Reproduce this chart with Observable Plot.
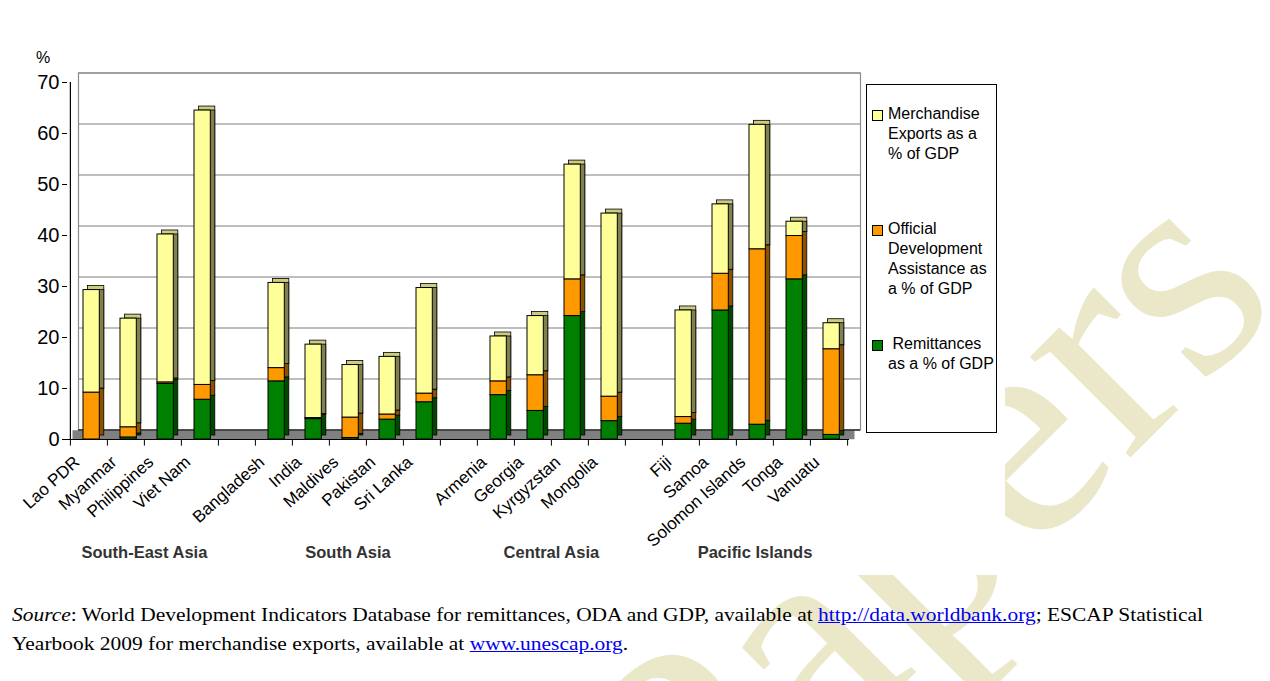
<!DOCTYPE html>
<html>
<head>
<meta charset="utf-8">
<script src="https://cdn.jsdelivr.net/npm/d3@7"></script>
<script src="https://cdn.jsdelivr.net/npm/@observablehq/plot@0.6"></script>
<style>
  body { margin: 0; background: #fff; }
  #wrap { position: relative; width: 1270px; height: 681px; overflow: hidden; font-family: Arial, "Liberation Sans", sans-serif; }
  #wm { position: absolute; left: 0; top: 0; }
  #chart { position: absolute; left: 0; top: 0; background: #fff; }
  #pct { position: absolute; left: 36px; top: 49px; font-size: 16px; color: #000; }
  #legend { position: absolute; left: 866px; top: 84px; width: 129px; height: 347px; border: 1px solid #000; background: #fff; font-size: 16px; line-height: 20px; color: #000; }
  .item { position: absolute; left: 0; }
  .sw { position: absolute; left: 5px; top: 6px; width: 9px; height: 9px; border: 1px solid #000; }
  .lt { position: absolute; left: 21px; top: 0; white-space: nowrap; }
  #caption { position: absolute; left: 12px; top: 600px; font-family: "Liberation Serif", "Times New Roman", serif; font-size: 19.5px; line-height: 29px; color: #000; white-space: nowrap; transform: scaleX(1.1); transform-origin: 0 0; }
  #caption a { color: #0000ee; text-decoration: underline; }
</style>
</head>
<body>
<div id="wrap">
  <svg id="wm" width="1270" height="681"><text id="wmtext" font-family="Liberation Serif, Times New Roman, serif" font-size="310" fill="#ebe8c9">Papers</text></svg>
  <div id="chart"></div>
  <div id="pct">%</div>
  <div id="legend"></div>
  <div id="caption"><i>Source</i>: World Development Indicators Database for remittances, ODA and GDP, available at <a>http://data.worldbank.org</a>; ESCAP Statistical<br>Yearbook 2009 for merchandise exports, available at <a>www.unescap.org</a>.</div>
</div>
<script>
// ---- data ----
const regionNames = ["South-East Asia", "South Asia", "Central Asia", "Pacific Islands"];
const countries = ["Lao PDR", "Myanmar", "Philippines", "Viet Nam",
  "Bangladesh", "India", "Maldives", "Pakistan", "Sri Lanka",
  "Armenia", "Georgia", "Kyrgyzstan", "Mongolia",
  "Fiji", "Samoa", "Solomon Islands", "Tonga", "Vanuatu"];
const countryRegion = [0, 0, 0, 0, 1, 1, 1, 1, 1, 2, 2, 2, 2, 3, 3, 3, 3, 3];
const remittances = [0, 0.4, 10.9, 7.8, 11.4, 4.0, 0.3, 3.9, 7.3, 8.7, 5.6, 24.2, 3.6, 3.1, 25.3, 2.9, 31.4, 0.9];
const oda = [9.2, 2.0, 0.3, 2.9, 2.6, 0.2, 4.0, 1.0, 1.7, 2.7, 7.0, 7.2, 4.8, 1.3, 7.2, 34.4, 8.5, 16.8];
const merchExports = [20.1, 21.3, 29.0, 53.8, 16.7, 14.4, 10.3, 11.3, 20.7, 8.8, 11.6, 22.5, 35.9, 20.9, 13.6, 24.4, 2.8, 5.1];
const seriesNames = ["Remittances as a % of GDP", "Official Development Assistance as a % of GDP", "Merchandise Exports as a % of GDP"];
const seriesFront = ["#008000", "#FF9900", "#FFFF99"];
const seriesSide = ["#004a00", "#8a5200", "#808050"];
const topColor = "#cccc80";
const yTicks = [0, 10, 20, 30, 40, 50, 60, 70];

// ---- slots (with empty gaps between regions) ----
const slots = [];
regionNames.forEach((r, ri) => {
  countries.forEach((c, i) => { if (countryRegion[i] === ri) slots.push(c); });
  if (ri < regionNames.length - 1) slots.push(" ".repeat(ri + 1));
});

const rows = [];
countries.forEach((c, i) => {
  let base = 0;
  [remittances, oda, merchExports].forEach((arr, k) => {
    const v = arr[i];
    if (v > 0) rows.push({country: c, series: k, y1: base, y2: base + v});
    base += v;
  });
});
const topRows = rows.filter(r => r.series === 2);

const W = 1005, H = 575, ML = 67, MR = 156, MT = 82, MB = 136;
const bw = (W - ML - MR) / slots.length;
const DX = 11, DY = -9.5;
const SX = 4.5, SY = -4;
const barInset = {insetLeft: 13, insetRight: 7.7};

const groupMarks = regionNames.map((r, ri) => {
  const members = countries.filter((c, i) => countryRegion[i] === ri);
  const n = members.length;
  const mid = members[Math.floor(n / 2)];
  return Plot.text([r], {x: () => mid, y: () => 0, text: d => d, dx: n % 2 === 0 ? -bw / 2 : 0, dy: 113,
    fontSize: 16.5, fontWeight: "bold", fill: "#333"});
});

const chart = Plot.plot({
  width: W, height: H,
  marginLeft: ML, marginRight: MR, marginTop: MT, marginBottom: MB,
  style: {fontFamily: "Arial, 'Liberation Sans', sans-serif", background: "#fff", overflow: "visible"},
  x: {type: "band", domain: slots, padding: 0, axis: null},
  y: {domain: [0, 70], axis: null},
  marks: [
    Plot.ruleY(yTicks, {stroke: "#a8a8a8", strokeWidth: 1.5, dx: DX, dy: DY}),
    Plot.frame({stroke: "#8c8c8c", strokeWidth: 1.2, dx: DX, dy: DY}),
    Plot.ruleY([0], {stroke: "#808080", strokeWidth: 9, dx: DX / 2, dy: DY / 2}),
    Plot.ruleY([0], {stroke: "#000", strokeWidth: 1, dx: DX, dy: DY}),
    // side faces
    ...[0, 1].map(k => Plot.barY(rows.filter(r => r.series === k), {
      x: "country", y1: "y1", y2: "y2", fill: seriesSide[k], stroke: "#000", strokeWidth: 0.8,
      ...barInset, dx: SX, dy: SY})),
    Plot.barY(topRows, {x: "country", y1: "y1", y2: "y2", fill: topColor, stroke: "#000", strokeWidth: 0.8,
      ...barInset, dx: SX, dy: SY}),
    Plot.barY(topRows, {x: "country", y1: "y1", y2: "y2", fill: seriesSide[2], stroke: "#000", strokeWidth: 0.8,
      ...barInset, insetTop: -SY, dx: SX, dy: SY}),
    // front faces
    ...[0, 1, 2].map(k => Plot.barY(rows.filter(r => r.series === k), {
      x: "country", y1: "y1", y2: "y2", fill: seriesFront[k], stroke: "#000", strokeWidth: 1,
      ...barInset})),
    Plot.ruleY([0], {stroke: "#000", strokeWidth: 1.2}),
    Plot.ruleX([slots[0]], {y1: 0, y2: 70, dx: -bw / 2, stroke: "#000", strokeWidth: 1.2}),
    Plot.ruleX(slots, {x: d => d, y1: 0, y2: -1.3, dx: -bw / 2, stroke: "#000"}),
    Plot.ruleX([slots[slots.length - 1]], {y1: 0, y2: -1.3, dx: bw / 2, stroke: "#000"}),
    Plot.axisY({ticks: yTicks, tickSize: 5, tickPadding: 3, fontSize: 20, label: null, stroke: "#000", fill: "#000"}),
    Plot.axisX({tickSize: 0, tickRotate: -42, tickPadding: 20, dx: -12, fontSize: 17, label: null, fill: "#000"}),
    ...groupMarks
  ]
});
document.getElementById("chart").appendChild(chart);

// legend
const legendItems = [
  {k: 2, html: "Merchandise<br>Exports as a<br>% of GDP", top: 19},
  {k: 1, html: "Official<br>Development<br>Assistance as<br>a % of GDP", top: 134},
  {k: 0, html: "&nbsp;Remittances<br>as a % of GDP", top: 249}
];
const leg = document.getElementById("legend");
legendItems.forEach(it => {
  const d = document.createElement("div");
  d.className = "item";
  d.style.top = it.top + "px";
  d.innerHTML = `<div class="sw" style="background:${seriesFront[it.k]}"></div><div class="lt">${it.html}</div>`;
  leg.appendChild(d);
});

// watermark
document.getElementById("wmtext").setAttribute("transform", "translate(700,888) rotate(-45)");
</script>
</body>
</html>
